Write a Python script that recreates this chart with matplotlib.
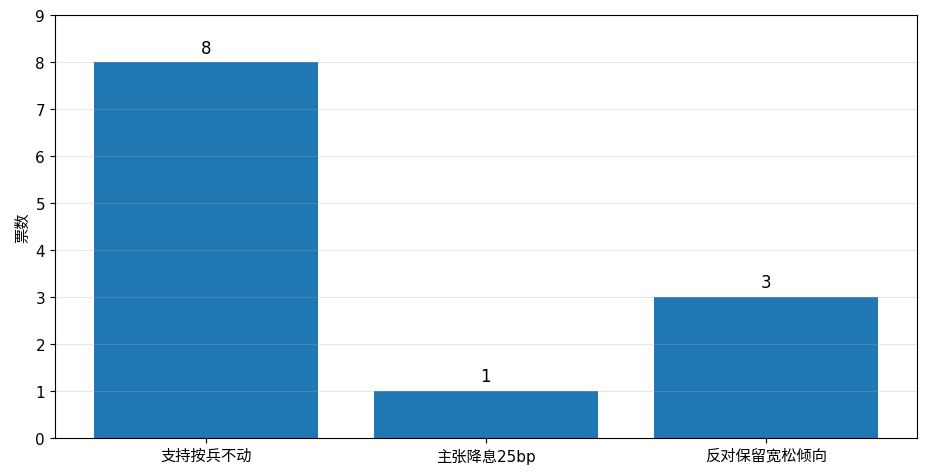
import matplotlib.pyplot as plt

plt.rcParams['font.family'] = ['DejaVu Sans', 'Noto Sans CJK SC']
plt.rcParams['font.size'] = 11

categories = ['支持按兵不动', '主张降息25bp', '反对保留宽松倾向']
votes = [8, 1, 3]

fig, ax = plt.subplots(figsize=(9.29, 4.77), dpi=100)
fig.subplots_adjust(left=0.059, right=0.987, top=0.966, bottom=0.080)

bars = ax.bar(categories, votes, color='#1f77b4', width=0.8)
for i, v in enumerate(votes):
    ax.text(i, v + 0.12, str(v), ha='center', va='bottom', fontsize=12)

ax.set_ylim(0, 9)
ax.set_ylabel('票数')
ax.grid(axis='y', alpha=0.3)

fig.savefig('out.png')
